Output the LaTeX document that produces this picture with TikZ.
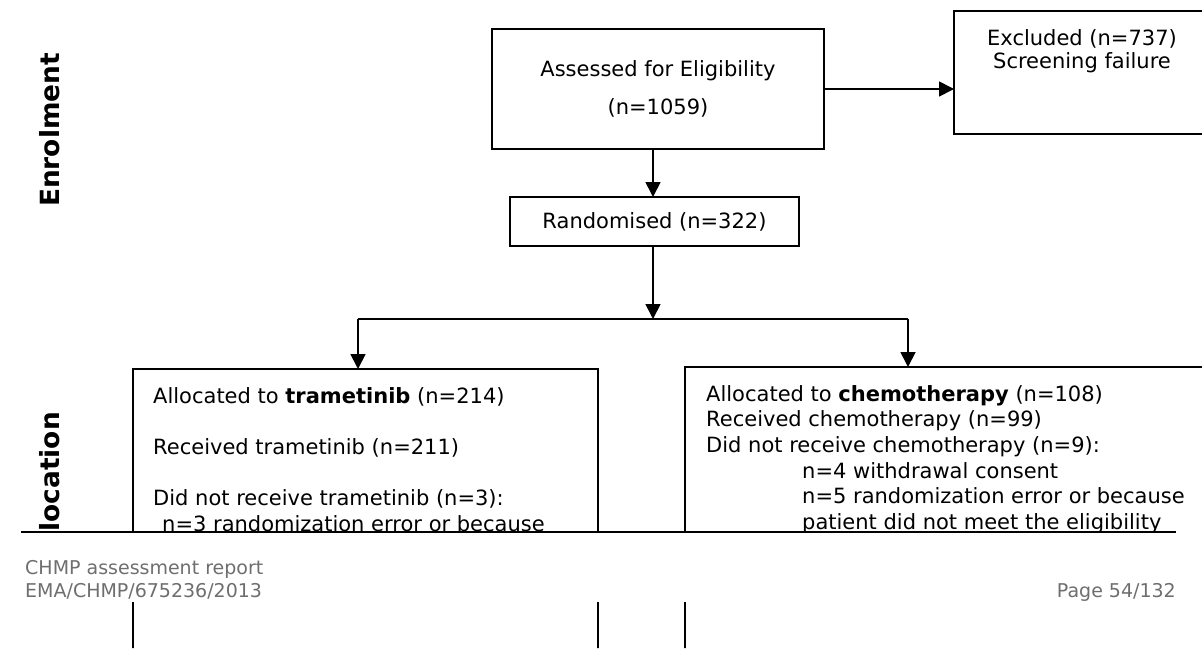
\documentclass[tikz,border=0pt]{standalone}
\usepackage{fontspec}
\setmainfont{DejaVu Sans}
\usetikzlibrary{arrows.meta}

\definecolor{footgray}{RGB}{110,110,110}

\tikzset{
  box/.style={draw, line width=1.8pt, inner sep=0pt, outer sep=0pt},
  flow/.style={line width=1.8pt, -{Triangle[length=15pt,width=15pt]}},
  link/.style={line width=1.8pt},
  txt/.style={inner sep=0pt, font=\fontsize{21}{25.7}\selectfont},
  side/.style={rotate=90, inner sep=0pt, font=\bfseries\fontsize{26.4}{30}\selectfont},
  foot/.style={inner sep=0pt, text=footgray, font=\fontsize{19}{23}\selectfont}
}

\begin{document}
\begin{tikzpicture}[x=1pt,y=-1pt]
\useasboundingbox (0,0) rectangle (1202,648);

% side labels
\node[side] (enrol) at (50,130) {Enrolment};

% page cut: boxes only show above the rule and below the footer
\begin{scope}
  \clip (0,0) rectangle (1202,532) (0,602) rectangle (1202,648);
  \node[side, anchor=east] (alloc) at (50,412) {Allocation};

  \node[box, minimum width=332, minimum height=120] (assess) at (658,89)
    {\parbox{332pt}{\centering\fontsize{21}{23}\selectfont Assessed for Eligibility\\[15pt](n=1059)}};
  \node[box, minimum width=270, minimum height=123] (excl) at (1089,72.5) {};
  \node[txt, align=center, font=\fontsize{21}{23}\selectfont, anchor=north] (exclt) at (1082,29)
    {Excluded (n=737)\\Screening failure};
  \node[box, minimum width=289, minimum height=49, txt] (rand) at (654.5,221.5) {Randomised (n=322)};

  \node[box, minimum width=465, minimum height=400, anchor=north west] (trama) at (133,369) {};
  \node[txt, align=left, anchor=north west] (tramt) at (153,387)
    {Allocated to \textbf{trametinib} (n=214)\\[25.7pt]
     Received trametinib (n=211)\\[25.7pt]
     Did not receive trametinib (n=3):\\
     \hspace*{9pt}n=3 randomization error or because};

  \node[box, minimum width=540, minimum height=400, anchor=north west] (chemo) at (685,367) {};
  \node[txt, align=left, anchor=north west] (chemt) at (706,385)
    {Allocated to \textbf{chemotherapy} (n=108)\\
     Received chemotherapy (n=99)\\
     Did not receive chemotherapy (n=9):\\
     \hspace*{96pt}n=4 withdrawal consent\\
     \hspace*{96pt}n=5 randomization error or because\\
     \hspace*{96pt}patient did not meet the eligibility};
\end{scope}

% connectors
\coordinate (split) at (653,319);
\coordinate (ltee) at (358,319);
\coordinate (rtee) at (908,319);
\draw[flow] (assess.east) -- (assess.east -| excl.west);
\draw[flow] (assess.south -| split) -- (rand.north -| split);
\draw[flow] (rand.south -| split) -- (split);
\draw[link] (ltee) -- (rtee);
\draw[flow] (ltee) -- (ltee |- trama.north);
\draw[flow] (rtee) -- (rtee |- chemo.north);

% page break and footer
\coordinate (cutl) at (21,532);
\coordinate (cutr) at (1176,532);
\draw[line width=2.5pt] (cutl) -- (cutr);
\node[foot, align=left, anchor=north west] (report) at (25,560)
  {CHMP assessment report\\EMA/CHMP/675236/2013};
\node[foot, anchor=base east] (page) at (1176,597) {Page 54/132};
\end{tikzpicture}
\end{document}
